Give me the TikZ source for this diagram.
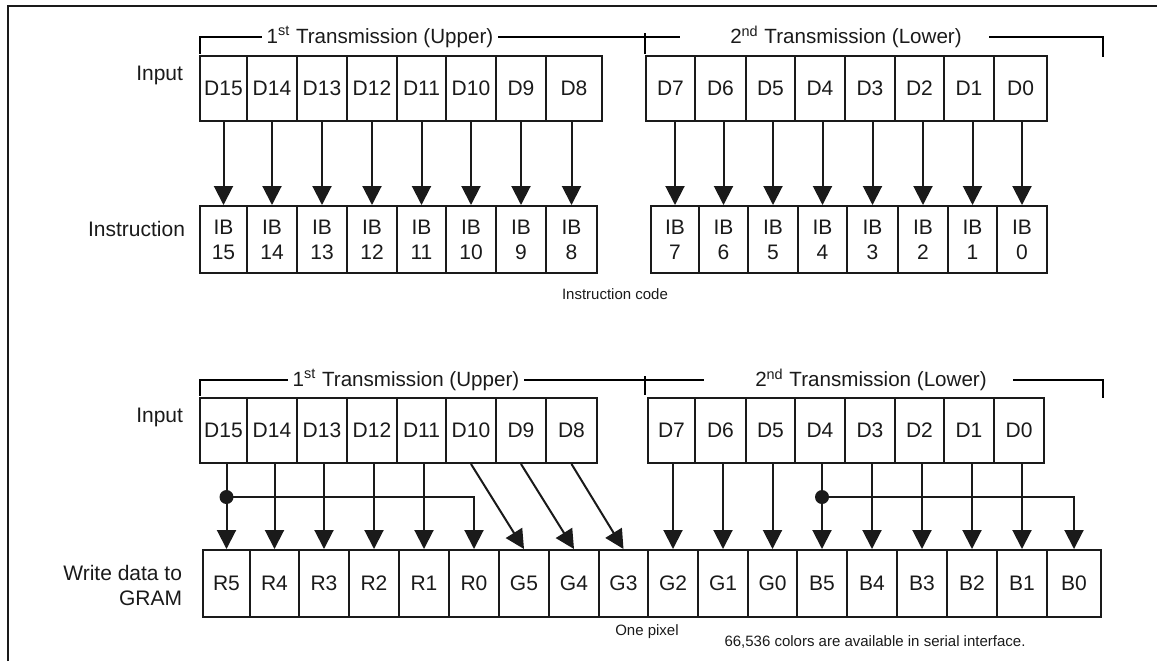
\documentclass[tikz,border=0pt]{standalone}
\usepackage{fontspec}
\setmainfont{Liberation Sans}
\usetikzlibrary{arrows.meta, positioning, calc}
\definecolor{cline}{HTML}{1A1A1A}
\tikzset{
  every picture/.style={line width=1pt, text=cline},
  cell/.style={draw=cline, minimum height=#1, inner sep=0pt, align=center, font=\fontsize{10.5}{12.5}\selectfont},
  cell/.default=32.5pt,
  tag/.style={anchor=east, align=right, inner sep=0pt, font=\fontsize{10.5}{12.5}\selectfont},
  span/.style={inner xsep=2pt, inner ysep=0pt, font=\fontsize{10.3}{12}\selectfont},
  note/.style={inner sep=0pt, font=\fontsize{7.5}{9}\selectfont},
  arrow/.style={-{Triangle[length=9.5pt, width=9.5pt]}, draw=cline},
  frame/.style={draw=cline, line width=1.4pt},
}
\begin{document}
\begin{tikzpicture}[x=0.5pt, y=-0.5pt]
  \useasboundingbox (0,0) rectangle (1157,661);
  \draw[frame] (8,661) -- (8,6) -- (1157,6);

  % instruction code
  \node[span] (up1) at (380,37) {1\textsuperscript{st} Transmission (Upper)};
  \node[span] (lo1) at (846,37) {2\textsuperscript{nd} Transmission (Lower)};
  \draw (200,54) -- (200,37) -- (up1.west);
  \draw (up1.east) -- (680,37);
  \draw (645,33) -- (645,54);
  \draw (989,37) -- (1103,37) -- (1103,57);
  \node[tag] (in1) at (184,75) {Input};
  \node[tag] (ins) at (186,229) {Instruction};
  \foreach \xl/\xr/\bit in {200/247/15, 247/297/14, 297/347/13, 347/397/12, 397/446/11, 446/496/10, 496/546/9, 546/602/8,
                           646/695/7, 695/746/6, 746/795/5, 795/845/4, 845/895/3, 895/944/2, 944/994/1, 994/1047/0} {
    \pgfmathsetmacro\cw{(\xr-\xl)*0.5}
    \node[cell, minimum width=\cw pt] (a\bit) at ({(\xl+\xr)/2},88.5) {D\bit};
  }
  \foreach \xl/\xr/\bit in {200/247/15, 247/297/14, 297/347/13, 347/397/12, 397/446/11, 446/496/10, 496/546/9, 546/597/8,
                           651/699/7, 699/748/6, 748/798/5, 798/847/4, 847/898/3, 898/948/2, 948/997/1, 997/1047/0} {
    \pgfmathsetmacro\cw{(\xr-\xl)*0.5}
    \node[cell=33.5pt, minimum width=\cw pt] (ib\bit) at ({(\xl+\xr)/2},239.5) {IB\\\bit};
  }
  \foreach \bit in {0,...,15}
    \draw[arrow] (ib\bit.north |- a\bit.south) -- (ib\bit.north);
  \node[note] (icode) at (615,294) {Instruction code};

  % write data to GRAM
  \node[span] (up2) at (406,380) {1\textsuperscript{st} Transmission (Upper)};
  \node[span] (lo2) at (871,380) {2\textsuperscript{nd} Transmission (Lower)};
  \draw (200,396) -- (200,380) -- (up2.west);
  \draw (up2.east) -- (704,380);
  \draw (645,376) -- (645,395);
  \draw (1013,380) -- (1103,380) -- (1103,398);
  \node[tag] (in2) at (184,417) {Input};
  \node[tag] (wr) at (183,585) {Write data to\\GRAM};
  \foreach \xl/\xr/\bit in {200/247/15, 247/297/14, 297/347/13, 347/397/12, 397/446/11, 446/496/10, 496/546/9, 546/597/8,
                           648/695/7, 695/746/6, 746/795/5, 795/845/4, 845/895/3, 895/944/2, 944/994/1, 994/1044/0} {
    \pgfmathsetmacro\cw{(\xr-\xl)*0.5}
    \node[cell, minimum width=\cw pt] (b\bit) at ({(\xl+\xr)/2},430.5) {D\bit};
  }
  \foreach \xl/\xr/\px in {203/250/R5, 250/299/R4, 299/349/R3, 349/399/R2, 399/449/R1, 449/499/R0,
                          499/549/G5, 549/599/G4, 599/648/G3, 648/698/G2, 698/748/G1, 748/797/G0,
                          797/847/B5, 847/897/B4, 897/947/B3, 947/997/B2, 997/1047/B1, 1047/1101/B0} {
    \pgfmathsetmacro\cw{(\xr-\xl)*0.5}
    \node[cell=33.5pt, minimum width=\cw pt] (g\px) at ({(\xl+\xr)/2},583.5) {\px};
  }
  \foreach \bit/\px in {15/R5, 14/R4, 13/R3, 12/R2, 11/R1, 7/G2, 6/G1, 5/G0, 4/B5, 3/B4, 2/B3, 1/B2, 0/B1}
    \draw[arrow] (g\px.north |- b\bit.south) -- (g\px.north);
  \foreach \bit/\px in {10/G5, 9/G4, 8/G3}
    \draw[arrow] (b\bit.south) -- (g\px.north);
  \coordinate (jr) at (gR5.north |- 0,497);
  \coordinate (jb) at (gB5.north |- 0,497);
  \fill[cline] (jr) circle (3.5pt);
  \fill[cline] (jb) circle (3.5pt);
  \draw[arrow] (jr) -| (gR0.north);
  \draw[arrow] (jb) -| (gB0.north);
  \node[note] (pix) at (647,632) {One pixel};
  \node[note] (cols) at (875,642) {66,536 colors are available in serial interface.};
\end{tikzpicture}
\end{document}
